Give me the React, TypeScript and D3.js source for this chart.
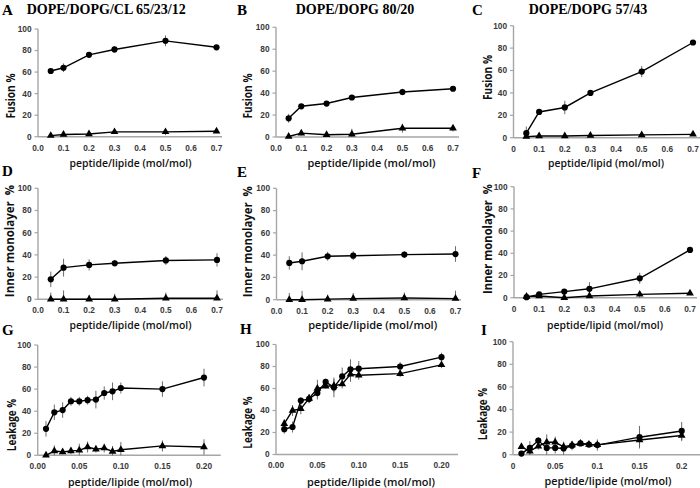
import React from "react";
import * as d3 from "d3";

// ---------- data ----------
const xFus = [0.05, 0.1, 0.2, 0.3, 0.5, 0.7];
const xLeak = [0.01, 0.02, 0.03, 0.04, 0.05, 0.06, 0.07, 0.08, 0.09, 0.1, 0.15, 0.2];

const aCirc = [61, 64, 76, 81, 89, 83];
const aCircErr = [1, 4, 1.5, 3, 5, 2];
const aTri = [1, 2, 2.5, 4.5, 4.5, 5];
const aTriErr = [0.5, 1, 0.5, 1, 3, 1];

const bCirc = [17, 28, 30.5, 36, 41, 44];
const bCircErr = [4, 2, 2, 2, 3, 2];
const bTri = [0.5, 3.5, 2, 2.5, 8, 8];
const bTriErr = [1, 2, 2, 5, 4, 3];

const cCirc = [4, 23, 27, 40, 59, 85];
const cCircErr = [6, 2, 6, 1, 5, 2];
const cTri = [1, 1.5, 1.5, 2, 2.5, 3];
const cTriErr = [1, 0.5, 0.5, 0.5, 0.5, 0.5];

const dCirc = [18, 28.5, 31, 32.5, 35, 35.5];
const dCircErr = [7, 8, 5, 3, 4, 6];
const dTri = [0, 0, 0, 0, 1, 1];
const dTriErr = [6, 8, 4, 5, 5, 7];

const eCirc = [33, 34.5, 39, 39.5, 40.5, 41];
const eCircErr = [6, 8, 4, 4, 3, 7];
const eTri = [0, 0, 0.5, 1, 1.5, 1];
const eTriErr = [6, 8, 4, 5, 5, 7];

const fCirc = [0.5, 3, 5.5, 8, 17.5, 43];
const fCircErr = [0.5, 1, 2, 6, 5, 1];
const fTri = [1, 1.5, 0, 1.5, 3, 4];
const fTriErr = [1, 1, 0.5, 2, 3, 1];

const gCirc = [24, 39, 41, 49, 49, 50, 50.5, 56.5, 58, 61, 60, 70.5];
const gCircErr = [7, 7, 7, 4, 4, 4, 8, 6, 8, 5, 7, 8];
const gTri = [0, 4, 3, 4, 4.5, 7.5, 5.5, 6.5, 3.5, 5, 8.5, 7.5];
const gTriErr = [1, 5, 2, 3, 6, 5, 3, 4, 5, 7, 5, 7];

const hCirc = [23, 25, 49, 50.5, 56, 66, 61, 71, 77.5, 78, 80, 88.5];
const hCircErr = [4, 5, 3, 4, 6, 3, 9, 8, 9, 7, 4, 4];
const hTri = [28, 40, 41.5, 51, 60, 62, 62.5, 64, 73, 72, 73.5, 81.5];
const hTriErr = [4, 5, 5, 4, 8, 2, 6, 4, 7, 4, 3, 3];

const iCirc = [1, 6, 12.5, 6, 6, 5.5, 8, 10, 9, 8.5, 15.5, 21];
const iCircErr = [1, 6, 3, 7, 5, 6, 4, 1, 1, 5, 10, 8];
const iTri = [7, 3, 7.5, 11, 11, 7, 8.5, 10, 9, 8.7, 13, 17];
const iTriErr = [2, 3, 3, 7, 5, 4, 3, 1, 1, 3, 6, 5];

const yTicks = [0, 20, 40, 60, 80, 100];
const xTicksFus = [0, 0.1, 0.2, 0.3, 0.4, 0.5, 0.6, 0.7];
const xTicksLeak = [0, 0.05, 0.1, 0.15, 0.2];

const titleA = "DOPE/DOPG/CL 65/23/12";
const titleB = "DOPE/DOPG 80/20";
const titleC = "DOPE/DOPG 57/43";
const lblFusion = "Fusion %";
const lblInner = "Inner monolayer  %";
const lblLeak = "Leakage %";
const lblXe = "peptide/lipide (mol/mol)";
const lblXi = "peptide/lipid (mol/mol)";

// ---------- layout ----------
type Panel = {
  letter: string; lx: number; ly: number;
  x0: number; y100: number; y0: number;
  xs: number[]; circ: number[]; circErr: number[]; tri: number[]; triErr: number[];
  xAt: number; xAtPx: number; axisEnd: number; xTicks: number[]; fmt: (v: number) => string;
  ylab: string; ylx: number; yly: number; ylSx: number; ylFs: number;
  xlab: string; xlx: number; xly: number; xlLen: number;
};

const f1 = (v: number) => v.toFixed(1);
const f1z = (v: number) => (v === 0 ? "0" : v.toFixed(1));
const f2 = (v: number) => v.toFixed(2);
const fg = (v: number) => d3.format("~g")(v);

const panels: Panel[] = [
  { letter: "A", lx: 2, ly: 15, x0: 38, y100: 29, y0: 136.7, xs: xFus, circ: aCirc, circErr: aCircErr, tri: aTri, triErr: aTriErr,
    xAt: 0.7, xAtPx: 216.5, axisEnd: 222, xTicks: xTicksFus, fmt: f1,
    ylab: lblFusion, ylx: 10.7, yly: 96, ylSx: 0.78, ylFs: 13, xlab: lblXe, xlx: 130.5, xly: 162.5, xlLen: 122 },
  { letter: "B", lx: 237, ly: 15, x0: 276, y100: 27.3, y0: 137, xs: xFus, circ: bCirc, circErr: bCircErr, tri: bTri, triErr: bTriErr,
    xAt: 0.7, xAtPx: 453, axisEnd: 459, xTicks: xTicksFus, fmt: f1,
    ylab: lblFusion, ylx: 247.3, yly: 96, ylSx: 0.78, ylFs: 13, xlab: lblXe, xlx: 371.5, xly: 162.5, xlLen: 128 },
  { letter: "C", lx: 472, ly: 15, x0: 513.5, y100: 25.7, y0: 137.7, xs: xFus, circ: cCirc, circErr: cCircErr, tri: cTri, triErr: cTriErr,
    xAt: 0.7, xAtPx: 693, axisEnd: 700, xTicks: xTicksFus, fmt: f1z,
    ylab: lblFusion, ylx: 487.3, yly: 77.5, ylSx: 0.78, ylFs: 13, xlab: lblXi, xlx: 606, xly: 163, xlLen: 116 },
  { letter: "D", lx: 2, ly: 176, x0: 38, y100: 188.3, y0: 299.3, xs: xFus, circ: dCirc, circErr: dCircErr, tri: dTri, triErr: dTriErr,
    xAt: 0.7, xAtPx: 217, axisEnd: 223, xTicks: xTicksFus, fmt: f1,
    ylab: lblInner, ylx: 10, yly: 241, ylSx: 0.92, ylFs: 12.5, xlab: lblXe, xlx: 130.5, xly: 324.5, xlLen: 122 },
  { letter: "E", lx: 237, ly: 176.5, x0: 276.5, y100: 188.3, y0: 299.7, xs: xFus, circ: eCirc, circErr: eCircErr, tri: eTri, triErr: eTriErr,
    xAt: 0.7, xAtPx: 455.5, axisEnd: 461, xTicks: xTicksFus, fmt: f1,
    ylab: lblInner, ylx: 247.3, yly: 241.7, ylSx: 0.91, ylFs: 12.5, xlab: lblXe, xlx: 372.7, xly: 325, xlLen: 129 },
  { letter: "F", lx: 472, ly: 178, x0: 514, y100: 186.7, y0: 297.7, xs: xFus, circ: fCirc, circErr: fCircErr, tri: fTri, triErr: fTriErr,
    xAt: 0.7, xAtPx: 690, axisEnd: 697, xTicks: xTicksFus, fmt: f1z,
    ylab: lblInner, ylx: 487.3, yly: 239, ylSx: 0.9, ylFs: 12.5, xlab: lblXi, xlx: 605, xly: 324.5, xlLen: 116 },
  { letter: "G", lx: 2, ly: 335, x0: 37.7, y100: 345, y0: 455.3, xs: xLeak, circ: gCirc, circErr: gCircErr, tri: gTri, triErr: gTriErr,
    xAt: 0.2, xAtPx: 204, axisEnd: 220.7, xTicks: xTicksLeak, fmt: f2,
    ylab: lblLeak, ylx: 11, yly: 425, ylSx: 0.76, ylFs: 13, xlab: lblXe, xlx: 130, xly: 481.5, xlLen: 124 },
  { letter: "H", lx: 240, ly: 334, x0: 276, y100: 344.5, y0: 454.5, xs: xLeak, circ: hCirc, circErr: hCircErr, tri: hTri, triErr: hTriErr,
    xAt: 0.2, xAtPx: 441.5, axisEnd: 458, xTicks: xTicksLeak, fmt: f2,
    ylab: lblLeak, ylx: 247.3, yly: 422.5, ylSx: 0.76, ylFs: 13, xlab: lblXe, xlx: 371, xly: 481.5, xlLen: 128 },
  { letter: "I", lx: 481, ly: 335, x0: 513, y100: 341.7, y0: 454.7, xs: xLeak, circ: iCirc, circErr: iCircErr, tri: iTri, triErr: iTriErr,
    xAt: 0.2, xAtPx: 681.7, axisEnd: 700, xTicks: xTicksLeak, fmt: fg,
    ylab: lblLeak, ylx: 482.5, yly: 414, ylSx: 0.76, ylFs: 13, xlab: lblXe, xlx: 608, xly: 481, xlLen: 127 },
];

const AXIS = "#a6a6a6";
const TICKTXT = "#3a3a3a";
const ERR = "#5a5a5a";
const sansLbl = "Open Sans, Noto Sans, sans-serif";

function PanelView({ p }: { p: Panel }) {
  const x = d3.scaleLinear().domain([0, p.xAt]).range([p.x0, p.xAtPx]);
  const y = d3.scaleLinear().domain([0, 100]).range([p.y0, p.y100]);
  const line = d3.line<number>().x((_, i) => x(p.xs[i])).y((v) => y(v));
  const tri = d3.symbol().type(d3.symbolTriangle).size(26)();
  const errBars = (vals: number[], errs: number[], key: string) =>
    vals.map((v, i) => {
      const yt = y(v + errs[i]);
      const yb = Math.min(y(v - errs[i]), p.y0);
      return <line key={key + i} x1={x(p.xs[i])} x2={x(p.xs[i])} y1={yt} y2={yb} stroke={ERR} strokeWidth={0.9} />;
    });
  return (
    <g>
      <text x={p.lx} y={p.ly} fontFamily="Liberation Serif, Times New Roman, serif" fontWeight="bold" fontSize={15}>{p.letter}</text>
      {/* axes */}
      <line x1={p.x0} x2={p.x0} y1={p.y100} y2={p.y0} stroke={AXIS} strokeWidth={1.4} />
      <line x1={p.x0} x2={p.axisEnd} y1={p.y0} y2={p.y0} stroke={AXIS} strokeWidth={1.4} />
      {yTicks.map((t) => (
        <g key={"yt" + t}>
          <line x1={p.x0 - 3.5} x2={p.x0} y1={y(t)} y2={y(t)} stroke={AXIS} strokeWidth={1.2} />
          <text x={p.x0 - 6.5} y={y(t)} dy="0.35em" textAnchor="end" fontFamily="Liberation Sans, Arial, sans-serif" fontWeight="bold" fontSize={8.3} fill={TICKTXT}>{t}</text>
        </g>
      ))}
      {p.xTicks.map((t) => (
        <text key={"xt" + t} x={x(t)} y={p.y0 + 11} dy="0.35em" textAnchor="middle" fontFamily="Liberation Sans, Arial, sans-serif" fontWeight="bold" fontSize={8.3} fill={TICKTXT}>{p.fmt(t)}</text>
      ))}
      {/* labels */}
      <text x={p.xlx} y={p.xly} dy="0.35em" textAnchor="middle" fontFamily={sansLbl} fontWeight={600} fontSize={11.5} fill="#111" textLength={p.xlLen} lengthAdjust="spacingAndGlyphs">{p.xlab}</text>
      <text transform={`translate(${p.ylx},${p.yly}) rotate(-90) scale(${p.ylSx},1)`} dy="0.35em" textAnchor="middle" fontFamily={sansLbl} fontWeight={700} fontSize={p.ylFs} fill="#111" style={{ whiteSpace: "pre" }}>{p.ylab}</text>
      {/* error bars */}
      {errBars(p.circ, p.circErr, "ec")}
      {errBars(p.tri, p.triErr, "et")}
      {/* lines */}
      <path d={line(p.tri) || ""} fill="none" stroke="#000" strokeWidth={1.4} />
      <path d={line(p.circ) || ""} fill="none" stroke="#000" strokeWidth={1.4} />
      {p.tri.map((v, i) => (
        <path key={"t" + i} d={tri || ""} transform={`translate(${x(p.xs[i])},${y(v)})`} fill="#000" />
      ))}
      {p.circ.map((v, i) => (
        <circle key={"c" + i} cx={x(p.xs[i])} cy={y(v)} r={3.1} fill="#000" />
      ))}
    </g>
  );
}

export default function App() {
  return (
    <svg width={700} height={488} style={{ display: "block", position: "absolute", left: 0, top: 0, background: "#fff" }}>
      <rect width={700} height={488} fill="#fff" />
      <text x={26.7} y={14} fontFamily="Liberation Serif, Times New Roman, serif" fontWeight="bold" fontSize={14}>{titleA}</text>
      <text x={355} y={13.5} textAnchor="middle" fontFamily="Liberation Serif, Times New Roman, serif" fontWeight="bold" fontSize={14}>{titleB}</text>
      <text x={588} y={13.5} textAnchor="middle" fontFamily="Liberation Serif, Times New Roman, serif" fontWeight="bold" fontSize={14}>{titleC}</text>
      {panels.map((p) => (
        <PanelView key={p.letter} p={p} />
      ))}
    </svg>
  );
}
